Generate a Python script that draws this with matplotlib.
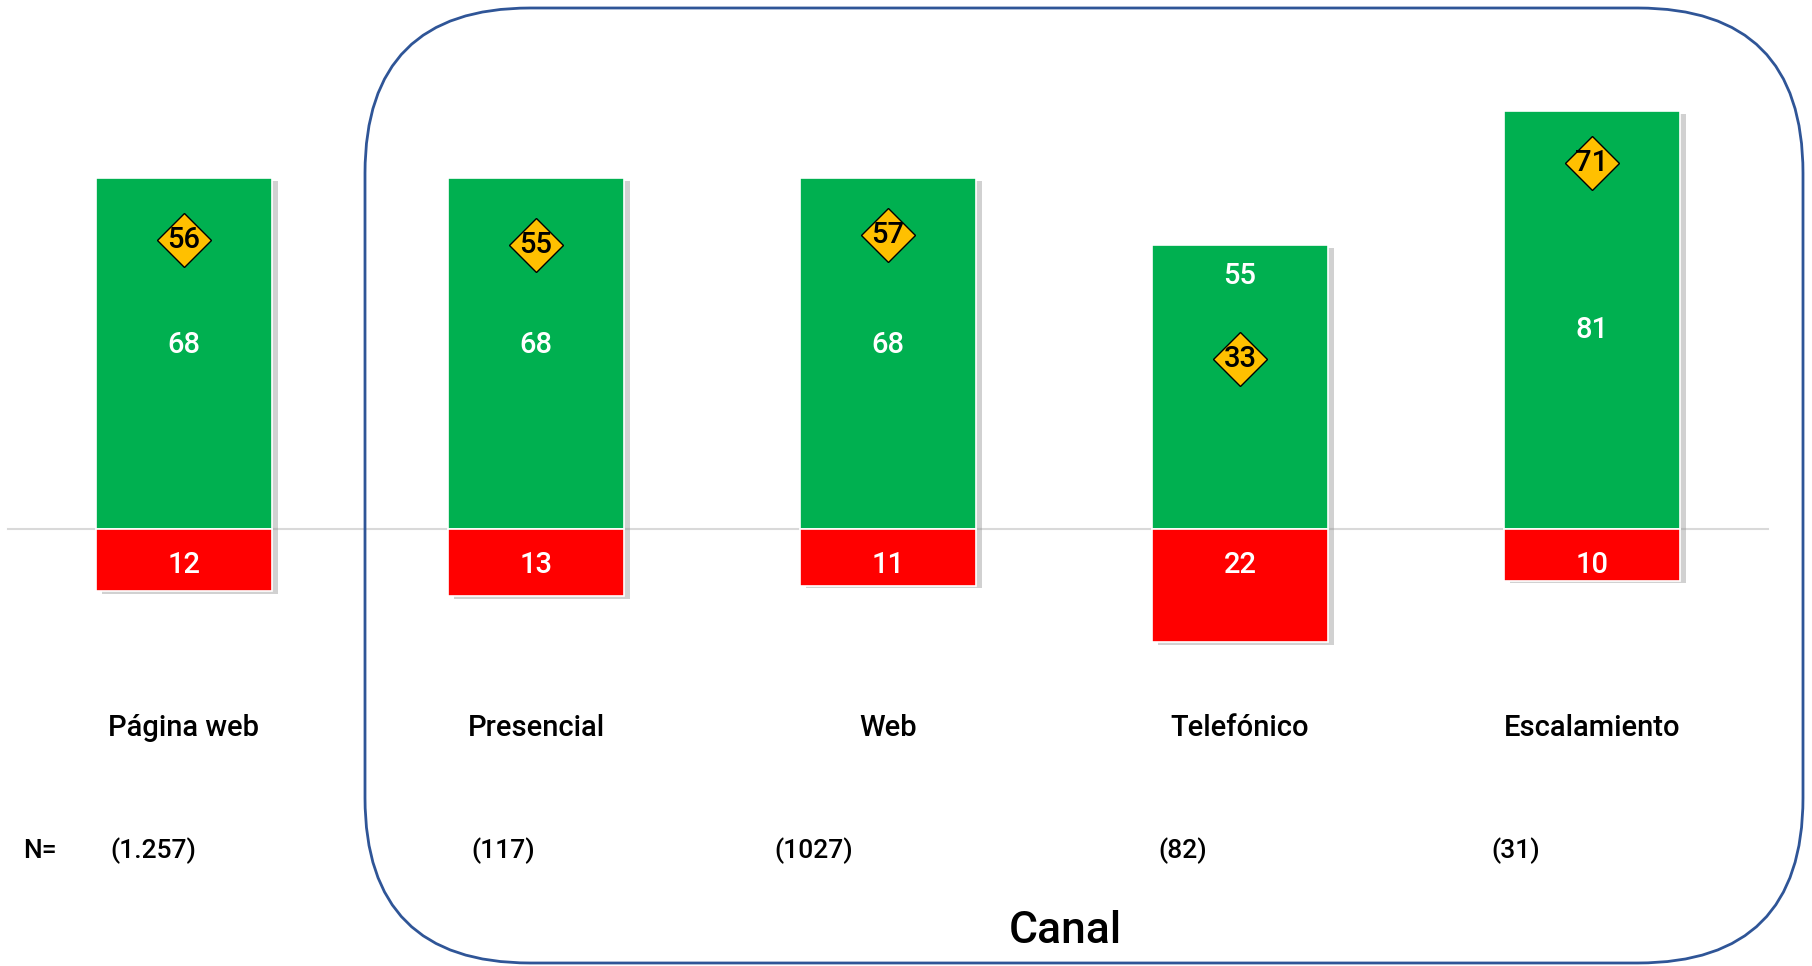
import matplotlib.pyplot as plt
import matplotlib.patheffects as pe
from matplotlib.patches import FancyBboxPatch
from matplotlib.transforms import IdentityTransform

plt.rcParams['font.family'] = ['Roboto', 'DejaVu Sans']

canales = ['Página web', 'Presencial', 'Web', 'Telefónico', 'Escalamiento']
positivos = [68, 68, 68, 55, 81]
negativos = [12, 13, 11, 22, 10]
indice = [56, 55, 57, 33, 71]
muestras = ['(1.257)', '(117)', '(1027)', '(82)', '(31)']

VERDE = '#00B050'
ROJO = '#FF0000'
AMBAR = '#FFC000'
AZUL = '#2F5597'

fig = plt.figure(figsize=(18.12, 9.66), dpi=100)
ax = fig.add_axes([0, 0, 1, 1])
ax.set_xlim(-0.5227, 4.625)
ax.set_ylim(-84.7, 102.5)
ax.axis('off')

x = list(range(len(canales)))
sombra = [pe.SimplePatchShadow(offset=(4, -2), shadow_rgbFace='#8c8c8c', alpha=0.4), pe.Normal()]

ax.plot([-0.5, 4.5], [0, 0], color='#D9D9D9', lw=1.5, zorder=1)
verdes = ax.bar(x, positivos, width=0.5, color=VERDE, edgecolor='white', lw=1.2, zorder=2)
rojas = ax.bar(x, [-v for v in negativos], width=0.5, color=ROJO, edgecolor='white', lw=1.2, zorder=2)
for b in list(verdes) + list(rojas):
    b.set_path_effects(sombra)

ax.plot(x, indice, ls='none', marker='D', ms=27, mfc=AMBAR, mec='black', mew=1, zorder=4)

for i in x:
    # etiqueta verde hacia la mitad, salvo que choque con el rombo
    y_lab = 20 + 0.23 * positivos[i]
    if abs(y_lab - indice[i]) < 12:
        y_lab = positivos[i] - 6
    ax.text(i, y_lab, str(positivos[i]), color='white', fontsize=21, fontweight='medium',
            ha='center', va='center', zorder=5)
    ax.text(i, -6.9, str(negativos[i]), color='white', fontsize=21, fontweight='medium',
            ha='center', va='center', zorder=5)
    ax.text(i, indice[i], str(indice[i]), color='black', fontsize=21, fontweight='medium',
            ha='center', va='center', zorder=5)
    ax.text(i, -38.6, canales[i], color='black', fontsize=21, fontweight='medium',
            ha='center', va='center')

# fila de tamaños de muestra
fig.text(23 / 1812, 1 - 851 / 966, 'N=', fontsize=19, fontweight='medium', ha='left', va='center')
for px, txt in zip([110, 471, 774, 1158, 1491], muestras):
    fig.text(px / 1812, 1 - 851 / 966, txt, fontsize=19, fontweight='medium', ha='left', va='center')

fig.text(1065 / 1812, 1 - 931 / 966, 'Canal', fontsize=32, fontweight='medium', ha='center', va='center')

marco = FancyBboxPatch((365, 3), 1438, 955, boxstyle='round,pad=0,rounding_size=165',
                       transform=IdentityTransform(), fill=False, edgecolor=AZUL, lw=2)
fig.patches.append(marco)

fig.savefig('out.png', dpi=100)
